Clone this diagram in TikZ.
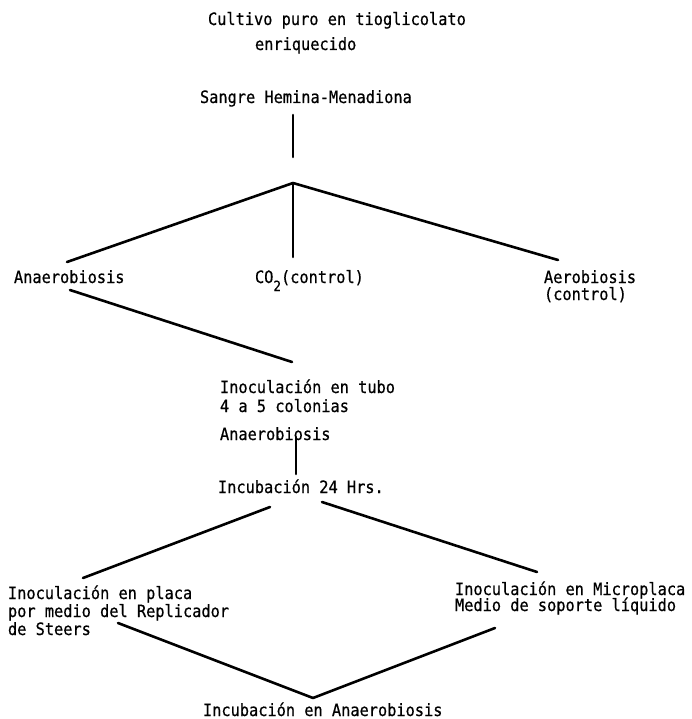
\documentclass[tikz,border=0pt]{standalone}
\usepackage{fontspec}
\setmainfont[FakeStretch=0.9,FakeBold=0.6]{DejaVu Sans Mono}
\begin{document}
\begin{tikzpicture}[x=1pt,y=-1pt,
  lbl/.style={anchor=base west,inner sep=0pt,outer sep=0pt,font=\fontsize{17}{19}\selectfont,align=left},
  conn/.style={line width=2.6pt,line cap=round,line join=round}]
\useasboundingbox[fill=white] (0,0) rectangle (691,719);
% texts
\node[lbl] (cult) at (208,25) {Cultivo puro en tioglicolato};
\node[lbl] (enr) at (255,50) {enriquecido};
\node[lbl] (sang) at (200,103) {Sangre Hemina-Menadiona};
\node[lbl] (anae) at (14,283) {Anaerobiosis};
\node[lbl] (co2) at (255,283) {CO\raisebox{-8pt}{\fontsize{14}{14}\selectfont 2}(control)};
\node[lbl] (aero) at (544,283) {Aerobiosis};
\node[lbl] (aeroc) at (544,300) {(control)};
\node[lbl] (tubo) at (220,393) {Inoculación en tubo};
\node[lbl] (colon) at (220,412) {4 a 5 colonias};
\node[lbl] (anae2) at (220,440) {Anaerobiosis};
\node[lbl] (inc24) at (218,493) {Incubación 24 Hrs.};
\node[lbl] (placa1) at (8,599) {Inoculación en placa};
\node[lbl] (placa2) at (8,617) {por medio del Replicador};
\node[lbl] (placa3) at (8,635) {de Steers};
\node[lbl] (micro1) at (455,595) {Inoculación en Microplaca};
\node[lbl] (micro2) at (455,611) {Medio de soporte líquido};
\node[lbl] (incan) at (203,716) {Incubación en Anaerobiosis};
% connector end points
\coordinate (s1) at (293,115);
\coordinate (s2) at (293,157);
\coordinate (apex) at (293,183);
\coordinate (lA) at (67,262);
\coordinate (lC) at (293,257);
\coordinate (lR) at (558,260);
\coordinate (a1) at (70,290);
\coordinate (a2) at (292,362);
\coordinate (v1) at (296,437);
\coordinate (v2) at (296,474);
\coordinate (b1) at (270,507);
\coordinate (b2) at (83,578);
\coordinate (c1) at (322,502);
\coordinate (c2) at (537,572);
\coordinate (d1) at (118,623);
\coordinate (d2) at (495,628);
\coordinate (bot) at (313,698);
% connectors
\draw[conn] (s1) -- (s2);
\draw[conn] (apex) -- (lA);
\draw[conn] (apex) -- (lC);
\draw[conn] (apex) -- (lR);
\draw[conn] (a1) -- (a2);
\draw[conn] (v1) -- (v2);
\draw[conn] (b1) -- (b2);
\draw[conn] (c1) -- (c2);
\draw[conn] (d1) -- (bot);
\draw[conn] (d2) -- (bot);
\end{tikzpicture}
\end{document}
